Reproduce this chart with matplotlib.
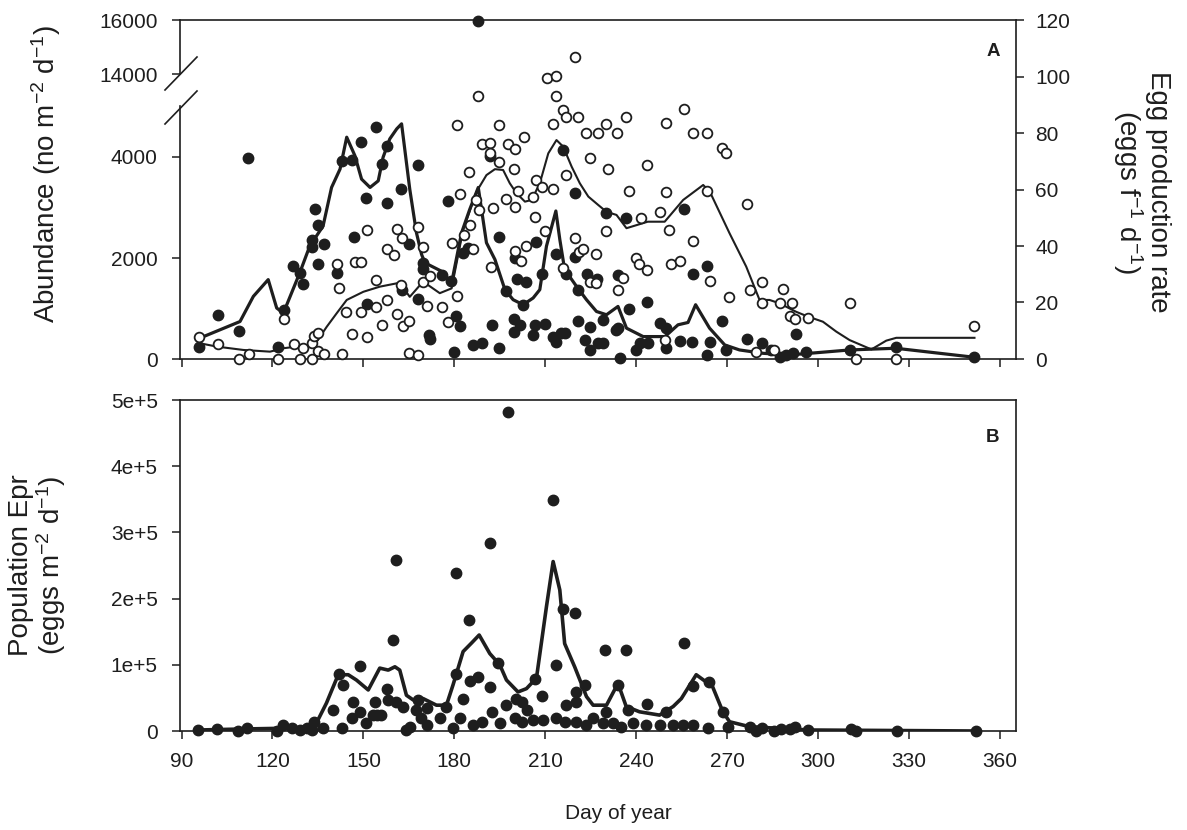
import matplotlib
matplotlib.use('Agg')
import matplotlib.pyplot as plt
from matplotlib.lines import Line2D
from matplotlib.ticker import FixedLocator

plt.rcParams['font.family'] = ['Liberation Sans', 'DejaVu Sans']
plt.rcParams['mathtext.default'] = 'regular'

# ---- Panel A: abundance (filled, left axis) ----
ab_day = [95.9, 101.9, 109.0, 111.8, 121.9, 123.9, 126.9, 129.0, 130.0, 132.9, 133.1, 134.0,
          135.1, 135.1, 137.0, 141.2, 143.0, 146.1, 147.0, 149.1, 151.0, 151.3, 154.1, 156.1,
          157.9, 157.9, 162.3, 162.9, 165.1, 168.1, 168.1, 169.7, 169.7, 171.7, 171.9, 176.0,
          178.0, 178.9, 179.8, 180.7, 181.8, 182.7, 184.6, 186.0, 189.0, 191.7, 192.3,
          194.8, 194.8, 196.9, 199.7, 199.7, 200.0, 200.7, 201.6, 202.7, 203.8, 205.8, 206.6,
          206.8, 208.8, 209.8, 212.6, 213.7, 213.7, 215.2, 215.7, 216.4, 216.8, 219.7, 219.7,
          220.8, 220.8, 223.0, 223.8, 224.9, 224.9, 227.1, 227.4, 228.9, 229.2, 229.9, 233.5,
          234.0, 234.0, 234.6, 236.8, 237.6, 239.9, 241.4, 243.6, 243.9, 247.7, 249.7, 249.7,
          254.6, 255.7, 258.5, 258.7, 263.4, 263.5, 264.5, 268.4, 269.5, 276.6, 281.5, 284.6,
          287.3, 289.5, 291.7, 292.6, 296.1, 310.4, 325.6, 351.6]
ab_val = [245, 876, 557, 3980, 232, 961, 1837, 1705, 1493, 2354, 2222, 2965,
          2647, 1884, 2269, 1705, 3914, 3946, 2422, 4304, 3198, 1094, 4591, 3860,
          4225, 3098, 3363, 1373, 2269, 3847, 1188, 1904, 1785, 478, 392, 1658,
          3130, 1538, 145, 842, 657, 2090, 2203, 279, 324, 4026, 677,
          2422, 213, 1339, 790, 543, 2004, 1586, 677, 1075, 1518, 478, 677,
          2314, 1692, 690, 444, 344, 2070, 511, 4145, 523, 1692, 3284, 2016,
          1373, 762, 378, 1692, 631, 179, 1586, 312, 312, 776, 2886, 577,
          1672, 611, 14, 2800, 989, 179, 324, 1120, 312, 710, 611, 213,
          364, 2965, 344, 1692, 80, 1837, 344, 756, 179, 392, 312, 179,
          46, 80, 113, 498, 145, 179, 245, 34]
# the one value above the axis break
ab_high_day = [187.9]
ab_high_val = [15950]

ab_line_day = [95.9, 109.3, 113.7, 118.6, 121.4, 123.6, 129.0, 132.3, 136.7, 139.5, 142.3, 144.5,
               147.2, 149.4, 152.2, 154.9, 156.5, 158.7, 161.0, 162.6, 165.3, 167.5, 169.2, 170.3,
               175.8, 179.1, 182.4, 185.1, 187.9, 190.6, 193.4, 196.7, 199.4, 202.7, 206.0, 208.2,
               210.4, 213.5, 214.8, 216.4, 220.3, 223.6, 226.9, 230.2, 234.0, 236.8, 242.3, 249.5,
               253.8, 257.1, 259.6, 264.2, 269.2, 274.1, 281.8, 290.6, 297.2, 310.4, 325.6, 351.6]
ab_line_val = [410, 742, 1240, 1572, 1009, 909, 1705, 2235, 2633, 3397, 3761, 4392,
               4026, 3562, 3397, 3528, 3994, 4358, 4557, 4657, 3363, 2501, 2070, 1904,
               1737, 1506, 2501, 2965, 3397, 2302, 1970, 1373, 1174, 1075, 1208, 1373,
               2235, 2931, 2368, 1771, 1439, 1174, 941, 876, 1041, 611, 444, 444,
               677, 723, 1075, 611, 279, 179, 113, 80, 113, 179, 213, 34]

# ---- Panel A: egg production rate (open, right axis) ----
egg_day = [95.9, 101.9, 109.0, 112.3, 121.9, 123.9, 127.1, 129.0, 130.2, 133.2, 133.2, 133.8,
           135.1, 135.1, 137.1, 141.2, 142.0, 143.1, 144.1, 146.1, 147.2, 149.1, 149.1, 151.3,
           151.3, 154.1, 154.1, 156.1, 157.9, 157.9, 160.2, 161.0, 161.0, 162.3, 162.9, 163.1,
           165.1, 165.1, 168.1, 168.1, 169.7, 169.7, 171.1, 171.9, 176.0, 178.0, 179.1, 180.9,
           180.9, 181.8, 183.1, 184.9, 185.1, 186.0, 187.3, 187.9, 188.1, 189.0, 191.7, 191.7,
           192.0, 192.8, 194.8, 194.8, 197.0, 197.7, 199.7, 200.0, 200.0, 200.0, 200.9, 202.0,
           203.0, 203.8, 205.8, 206.7, 206.8, 209.0, 209.8, 210.7, 212.6, 212.6, 213.7, 213.7,
           215.7, 215.9, 216.8, 216.8, 219.7, 219.7, 220.8, 221.1, 222.6, 223.6, 224.7, 224.7,
           226.7, 226.7, 227.4, 229.9, 229.9, 230.7, 233.8, 234.0, 235.6, 236.8, 237.6, 239.9,
           241.0, 241.7, 243.6, 243.6, 247.9, 249.6, 249.7, 249.7, 250.7, 251.6, 254.6, 255.7,
           258.7, 258.7, 263.5, 263.5, 264.5, 268.4, 269.5, 270.6, 276.6, 277.7, 279.6, 281.5,
           281.5, 285.4, 287.6, 288.4, 290.6, 291.4, 292.5, 296.6, 310.4, 312.6, 325.6, 351.6]
egg_val = [7.7, 5.2, 0, 1.7, 0, 14.2, 5.2, 0, 3.8, 0, 5.6, 8.1,
           9.1, 2.8, 1.7, 33.5, 25.2, 1.7, 16.7, 8.7, 34.2, 34.2, 16.5, 45.7,
           7.7, 28, 18.3, 12, 38.8, 20.9, 36.8, 46, 15.8, 26.2, 42.9, 11.7,
           13.6, 2.2, 46.8, 1.4, 39.8, 27.4, 18.8, 29.5, 18.3, 13.2, 41.2, 82.8,
           22.3, 58.3, 43.9, 66.1, 47.4, 38.8, 56.3, 93.2, 52.7, 76.1, 76.4, 73,
           32.5, 53.3, 82.8, 69.8, 56.6, 76.1, 67.2, 74.2, 53.7, 38.3, 59.5, 34.8,
           78.5, 40, 57.5, 50.2, 63.4, 61, 45.3, 99.6, 83.2, 60.1, 100.2, 93.2,
           88.1, 32.3, 85.8, 65.1, 107, 42.9, 85.8, 37.8, 38.8, 79.9, 71.3, 27.4,
           37.2, 27, 79.9, 83.2, 45.3, 67.2, 80.1, 24.4, 28.6, 85.8, 59.6, 35.6,
           33.5, 49.8, 68.7, 31.5, 52.1, 6.7, 83.4, 59.2, 45.7, 33.6, 34.7, 88.4,
           79.9, 41.9, 79.9, 59.6, 27.6, 74.8, 73, 22.1, 54.9, 24.4, 2.6, 27.4,
           19.7, 3.2, 19.9, 24.8, 15.2, 19.7, 14.1, 14.4, 19.7, 0, 0, 11.7]

egg_line_day = [95.9, 101.6, 110.4, 119.2, 123.6, 128.0, 133.5, 137.9, 141.2, 144.5, 150.0, 155.4,
                162.0, 165.3, 169.7, 175.2, 179.1, 182.9, 187.3, 190.6, 193.4, 196.1, 198.3, 200.5,
                203.3, 205.5, 208.2, 211.0, 213.7, 215.9, 218.7, 221.4, 224.2, 227.5, 230.2, 233.5,
                236.8, 243.8, 249.4, 255.5, 262.1, 264.3, 270.8, 276.3, 280.7, 284.0, 287.3, 292.8,
                296.7, 301.6, 306.0, 310.4, 317.6, 322.5, 325.8, 351.6]
egg_line_val = [5.6, 4.4, 3.2, 2.6, 3.8, 4.4, 4.4, 11.4, 16.2, 20.9, 23.8, 25.6,
                27, 22, 27.4, 23.3, 25, 45.7, 59.2, 65.1, 67.2, 66.9, 62.2, 58.7,
                55.7, 56.3, 62.2, 72.8, 77.5, 75.2, 68.1, 62.2, 57.5, 54.5, 52.1, 51,
                46.3, 48.6, 48.6, 56.3, 61.6, 59.2, 44.5, 32.7, 20.9, 20.9, 19.7, 16.7,
                15, 13.2, 9.7, 6.7, 3.4, 6.5, 7.5, 7.5]

# ---- Panel B: population egg production ----
pop_day = [95.5, 101.6, 108.7, 111.7, 121.6, 123.6, 126.3, 129.1, 131.3, 133.0, 133.7, 136.7,
           140.0, 142.0, 142.8, 143.2, 146.1, 146.6, 148.8, 148.8, 151.0, 153.2, 153.8, 154.5,
           155.7, 157.9, 158.2, 159.8, 160.9, 160.9, 163.1, 164.2, 165.3, 167.5, 168.1, 169.0,
           170.9, 170.9, 175.2, 177.4, 179.6, 180.5, 180.7, 181.8, 182.9, 184.9, 185.1, 186.2,
           187.9, 189.0, 191.7, 191.7, 192.3, 194.5, 195.0, 197.2, 197.7, 200.0, 200.5, 202.2,
           202.2, 204.0, 206.0, 206.5, 209.0, 209.3, 212.6, 213.5, 213.7, 215.9, 216.4, 216.8,
           219.7, 220.0, 220.0, 220.3, 223.0, 223.6, 225.8, 229.1, 229.6, 230.2, 232.4, 234.0,
           235.1, 236.6, 237.3, 238.9, 243.4, 243.6, 247.8, 249.7, 252.2, 255.5, 255.7, 258.8,
           258.9, 263.7, 264.0, 268.8, 270.3, 277.4, 279.6, 281.6, 285.6, 287.8, 290.6, 292.5,
           296.6, 310.9, 312.5, 326.0, 352.1]
pop_val = [1.5e3, 2.5e3, 0, 4e3, 0, 9e3, 4e3, 1.5e3, 4e3, 1.5e3, 1.4e4, 4e3,
           3.2e4, 8.6e4, 4e3, 6.9e4, 1.9e4, 4.4e4, 9.8e4, 2.9e4, 1.2e4, 2.4e4, 4.4e4, 2.4e4,
           2.4e4, 6.3e4, 4.7e4, 1.37e5, 2.58e5, 4.4e4, 3.7e4, 1.5e3, 6.5e3, 3.2e4, 4.7e4, 1.9e4,
           3.4e4, 9e3, 1.9e4, 3.7e4, 4e3, 8.6e4, 2.38e5, 1.9e4, 4.8e4, 1.68e5, 7.6e4, 9e3,
           8.2e4, 1.4e4, 2.84e5, 6.6e4, 2.9e4, 1.03e5, 1.2e4, 3.9e4, 4.82e5, 1.9e4, 4.9e4, 4.4e4,
           1.3e4, 3.2e4, 1.7e4, 7.8e4, 5.3e4, 1.7e4, 3.49e5, 9.97e4, 1.9e4, 1.85e5, 1.4e4, 3.9e4,
           1.78e5, 5.9e4, 4.4e4, 1.4e4, 6.9e4, 9e3, 1.9e4, 1.2e4, 1.23e5, 2.9e4, 1.2e4, 6.9e4,
           6.5e3, 1.23e5, 3.2e4, 1.2e4, 9e3, 4.1e4, 9e3, 2.9e4, 9e3, 9e3, 1.33e5, 9e3,
           6.8e4, 4e3, 7.4e4, 2.9e4, 6.5e3, 6e3, 0, 4e3, 0, 2.5e3, 2.5e3, 5.6e3,
           1.5e3, 2.5e3, 0, 0, 0]

pop_line_day = [95.5, 110.0, 122.0, 129.1, 134.5, 137.8, 141.7, 145.0, 147.7, 151.6, 155.4, 158.2,
                160.4, 162.0, 164.2, 166.4, 169.7, 174.1, 177.4, 179.6, 182.9, 185.7, 188.2, 191.7,
                195.0, 197.2, 201.0, 203.8, 207.1, 210.4, 212.6, 214.8, 216.4, 219.7, 223.6, 225.8,
                230.2, 234.0, 236.7, 241.1, 247.7, 252.2, 254.9, 259.8, 263.1, 264.3, 268.6, 270.8,
                277.4, 297.2, 352.1]
pop_line_val = [1.5e3, 3e3, 4e3, 4e3, 1.2e4, 4.2e4, 8.5e4, 8.5e4, 7.7e4, 6.2e4, 9.5e4, 9.2e4,
                9.7e4, 9.2e4, 5.4e4, 4.7e4, 4.9e4, 3.9e4, 3.9e4, 7e4, 1.2e5, 1.33e5, 1.45e5, 1.17e5,
                1e5, 7.7e4, 5.9e4, 6.4e4, 8e4, 1.88e5, 2.56e5, 2.13e5, 1.32e5, 9.7e4, 5.2e4, 3.9e4,
                3.9e4, 7.2e4, 3.7e4, 2.9e4, 2.4e4, 3.7e4, 4.9e4, 8.5e4, 7.4e4, 7.7e4, 2.9e4, 1.4e4,
                6.5e3, 1.5e3, 0]

x_ticks = [90, 120, 150, 180, 210, 240, 270, 300, 330, 360]
ab_low_ticks = [0, 2000, 4000]
ab_high_ticks = [14000, 16000]
egg_ticks = [0, 20, 40, 60, 80, 100, 120]
pop_ticks = [0, 1e5, 2e5, 3e5, 4e5, 5e5]
pop_tick_labels = ['0', '1e+5', '2e+5', '3e+5', '4e+5', '5e+5']

W, H = 1187, 830
INK = '#1e1e1e'
TFS = 15
YLFS = 20
XLFS = 15


def box(x0, y0, x1, y1):
    # pixel box (top-left origin) -> figure fraction rect
    return [x0 / W, 1 - y1 / H, (x1 - x0) / W, (y1 - y0) / H]


def style(ax):
    ax.tick_params(direction='out', length=6, width=1.1, labelsize=TFS, colors=INK)
    ax.tick_params(axis='y', pad=10)
    ax.tick_params(axis='x', pad=9)
    for s in ax.spines.values():
        s.set_linewidth(1.2)
        s.set_color(INK)


fig = plt.figure(figsize=(W / 100, H / 100), dpi=100)
xlim = (89.5, 365.3)

# lower part of broken abundance axis
ax_low = fig.add_axes(box(180, 106.5, 1016, 359))
ax_low.set_xlim(xlim)
ax_low.set_ylim(0, 5000)
ax_low.spines['top'].set_visible(False)
ax_low.spines['right'].set_visible(False)
ax_low.yaxis.set_major_locator(FixedLocator(ab_low_ticks))
ax_low.set_xticks(x_ticks)
ax_low.set_xticklabels([])
style(ax_low)
ax_low.plot(ab_line_day, ab_line_val, color=INK, lw=2.3, zorder=3, clip_on=False)
ax_low.plot(ab_day, ab_val, 'o', color=INK, ms=7.5, mec=INK, zorder=4, clip_on=False)

# upper part of broken abundance axis
ax_high = fig.add_axes(box(180, 20, 1016, 74))
ax_high.set_xlim(xlim)
ax_high.set_ylim(14000, 16000)
ax_high.spines['bottom'].set_visible(False)
ax_high.spines['right'].set_visible(False)
ax_high.yaxis.set_major_locator(FixedLocator(ab_high_ticks))
ax_high.set_xticks([])
ax_high.patch.set_alpha(0)
style(ax_high)
ax_high.plot(ab_high_day, ab_high_val, 'o', color=INK, ms=7.5, zorder=4, clip_on=False)

# egg production rate on the right
ax_egg = fig.add_axes(box(180, 20, 1016, 359))
ax_egg.set_xlim(xlim)
ax_egg.set_ylim(0, 120)
ax_egg.patch.set_alpha(0)
for side in ['left', 'top', 'bottom']:
    ax_egg.spines[side].set_visible(False)
ax_egg.set_xticks([])
ax_egg.yaxis.tick_right()
ax_egg.yaxis.set_major_locator(FixedLocator(egg_ticks))
style(ax_egg)
ax_egg.tick_params(axis='y', pad=8)
ax_egg.plot(egg_line_day, egg_line_val, color=INK, lw=1.5, zorder=3)
ax_egg.plot(egg_day, egg_val, 'o', mfc='white', mec=INK, mew=1.3, ms=7, zorder=5, clip_on=False)

# axis break marks
for (x0, y0, x1, y1) in [(165, 90, 197, 57), (165, 124, 197, 91)]:
    fig.add_artist(Line2D([x0 / W, x1 / W], [1 - y0 / H, 1 - y1 / H], color=INK, lw=1.2))

fig.text(993 / W, 1 - 52 / H, 'A', fontsize=13.5, fontweight='bold', color=INK, ha='center', va='center')

# panel B
ax_b = fig.add_axes(box(180, 400, 1016, 731))
ax_b.set_xlim(xlim)
ax_b.set_ylim(0, 5e5)
ax_b.set_xticks(x_ticks)
ax_b.yaxis.set_major_locator(FixedLocator(pop_ticks))
ax_b.set_yticklabels(pop_tick_labels)
style(ax_b)
ax_b.plot(pop_line_day, pop_line_val, color=INK, lw=2.6, zorder=3)
ax_b.plot(pop_day, pop_val, 'o', color=INK, ms=7.5, zorder=4, clip_on=False)
fig.text(993 / W, 1 - 437 / H, 'B', fontsize=13.5, fontweight='bold', color=INK, ha='center', va='center')

# axis labels
fig.text(46 / W, 1 - 174 / H, r'Abundance (no m$^{-2}$ d$^{-1}$)', rotation=90,
         fontsize=YLFS, color=INK, ha='center', va='center')
fig.text(1141 / W, 1 - 192 / H, 'Egg production rate\n' + r'(eggs f$^{-1}$ d$^{-1}$)', rotation=270,
         fontsize=YLFS, color=INK, ha='center', va='center', multialignment='center', linespacing=1.0)
fig.text(38 / W, 1 - 565 / H, 'Population Epr\n' + r'(eggs m$^{-2}$ d$^{-1}$)', rotation=90,
         fontsize=YLFS, color=INK, ha='center', va='center', multialignment='center', linespacing=1.0)
fig.text(618 / W, 1 - 813 / H, 'Day of year', fontsize=XLFS, color=INK, ha='center', va='center')

fig.savefig('out.png', dpi=100)
